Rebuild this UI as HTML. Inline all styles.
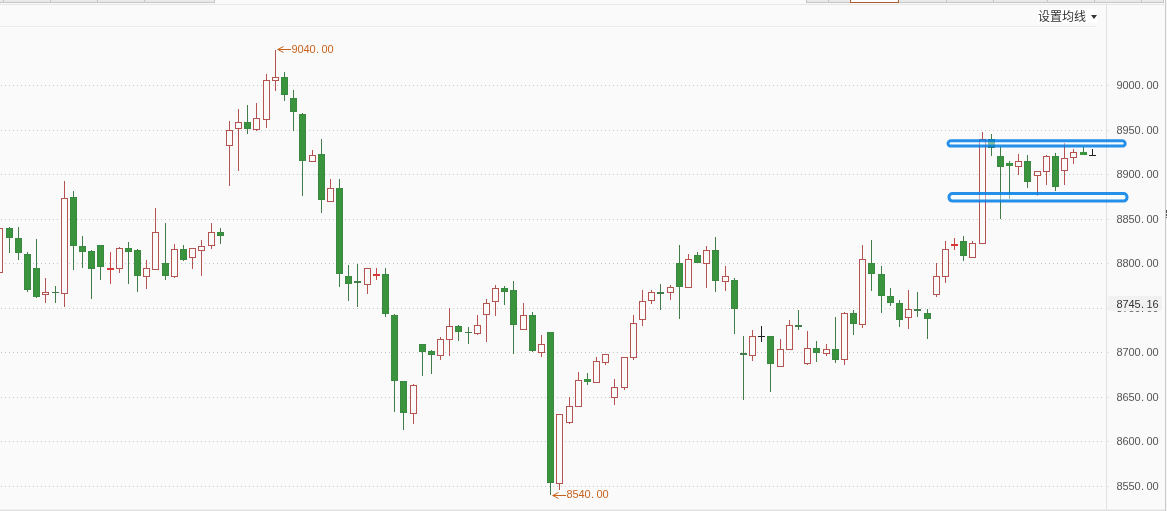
<!DOCTYPE html>
<html lang="zh-CN">
<head>
<meta charset="utf-8">
<title>K线图</title>
<style>
html,body{margin:0;padding:0;}
body{width:1167px;height:511px;overflow:hidden;background:#fafafa;position:relative;font-family:"Liberation Sans","Noto Sans CJK SC",sans-serif;}
svg{position:absolute;left:0;top:0;display:block;}
.pl,.hl{position:absolute;font-family:"Liberation Sans",sans-serif;font-size:11px;line-height:14px;height:14px;letter-spacing:-0.12px;white-space:nowrap;}
.pl{left:1116.5px;}
.pl i,.hl i{font-style:normal;display:inline-block;width:6px;text-align:left;text-indent:0.5px;letter-spacing:0;}
.hl{color:#c8641e;}
.cur{position:absolute;left:1108px;top:296px;width:54px;height:15px;background:#f1f1f1;border-radius:3px;}
.ma{position:absolute;left:1038px;top:9px;width:59px;height:14px;background:#fff;font-family:"Liberation Sans","Noto Sans CJK SC",sans-serif;font-size:12px;line-height:16px;color:#333;white-space:nowrap;}
.ma b{position:absolute;left:53px;top:6px;width:0;height:0;border-left:3px solid transparent;border-right:3px solid transparent;border-top:4px solid #333;}
</style>
</head>
<body>
<svg width="1167" height="511" viewBox="0 0 1167 511" shape-rendering="crispEdges">
<rect x="0" y="0" width="215" height="2" fill="#e9e9e9"/>
<rect x="0" y="2" width="215" height="1" fill="#c6c6c6"/>
<rect x="3" y="0" width="1" height="3" fill="#c6c6c6"/>
<rect x="50" y="0" width="1" height="3" fill="#c6c6c6"/>
<rect x="97" y="0" width="1" height="3" fill="#c6c6c6"/>
<rect x="144" y="0" width="1" height="3" fill="#c6c6c6"/>
<rect x="214" y="0" width="1" height="3" fill="#c6c6c6"/>
<rect x="806" y="0" width="358" height="2" fill="#e9e9e9"/>
<rect x="806" y="2" width="358" height="1" fill="#c6c6c6"/>
<rect x="806" y="0" width="1" height="3" fill="#c6c6c6"/>
<rect x="828" y="0" width="1" height="3" fill="#c6c6c6"/>
<rect x="946" y="0" width="1" height="3" fill="#c6c6c6"/>
<rect x="993" y="0" width="1" height="3" fill="#c6c6c6"/>
<rect x="1047" y="0" width="1" height="3" fill="#c6c6c6"/>
<rect x="1094" y="0" width="1" height="3" fill="#c6c6c6"/>
<rect x="1141" y="0" width="1" height="3" fill="#c6c6c6"/>
<rect x="1163" y="0" width="1" height="3" fill="#c6c6c6"/>
<rect x="850" y="0" width="49" height="3" fill="#ad5c33"/>
<rect x="851" y="0" width="47" height="2" fill="#ffffff"/>
<rect x="0" y="4" width="1165" height="1" fill="#e7e7e7"/>
<rect x="0" y="26" width="1097" height="1" fill="#ececec"/>
<rect x="1106" y="4" width="1" height="506" fill="#e1e1e1"/>
<rect x="1165" y="0" width="1" height="511" fill="#cbcbcb"/>
<rect x="1166" y="0" width="1" height="511" fill="#f4f4f4"/>
<rect x="1166" y="210" width="1" height="3" fill="#555"/>
<rect x="1166" y="214" width="1" height="2" fill="#555"/>
<rect x="1166" y="217" width="1" height="1" fill="#555"/>
<rect x="0" y="509" width="1165" height="1" fill="#f0f0f0"/>
<rect x="0" y="510" width="1165" height="1" fill="#dedede"/>
<pattern id="dots" x="1" y="0" width="4" height="1" patternUnits="userSpaceOnUse"><rect x="0" y="0" width="1" height="1" fill="#c6c6c6"/></pattern>
<rect x="1" y="85" width="1101" height="1" fill="url(#dots)"/>
<rect x="1107" y="85" width="2" height="1" fill="#e4e4e4"/>
<rect x="1" y="130" width="1101" height="1" fill="url(#dots)"/>
<rect x="1107" y="130" width="2" height="1" fill="#e4e4e4"/>
<rect x="1" y="174" width="1101" height="1" fill="url(#dots)"/>
<rect x="1107" y="174" width="2" height="1" fill="#e4e4e4"/>
<rect x="1" y="219" width="1101" height="1" fill="url(#dots)"/>
<rect x="1107" y="219" width="2" height="1" fill="#e4e4e4"/>
<rect x="1" y="263" width="1101" height="1" fill="url(#dots)"/>
<rect x="1107" y="263" width="2" height="1" fill="#e4e4e4"/>
<rect x="1" y="308" width="1101" height="1" fill="url(#dots)"/>
<rect x="1107" y="308" width="2" height="1" fill="#e4e4e4"/>
<rect x="1" y="352" width="1101" height="1" fill="url(#dots)"/>
<rect x="1107" y="352" width="2" height="1" fill="#e4e4e4"/>
<rect x="1" y="397" width="1101" height="1" fill="url(#dots)"/>
<rect x="1107" y="397" width="2" height="1" fill="#e4e4e4"/>
<rect x="1" y="441" width="1101" height="1" fill="url(#dots)"/>
<rect x="1107" y="441" width="2" height="1" fill="#e4e4e4"/>
<rect x="1" y="486" width="1101" height="1" fill="url(#dots)"/>
<rect x="1107" y="486" width="2" height="1" fill="#e4e4e4"/>
<rect x="-4" y="228" width="7" height="45" fill="#b55351"/>
<rect x="-3" y="229" width="5" height="43" fill="#fcfbfb"/>
<rect x="9" y="227" width="1" height="26" fill="#427c48"/>
<rect x="6" y="228" width="7" height="10" fill="#3b8840"/>
<rect x="7" y="229" width="5" height="8" fill="#3a943e"/>
<rect x="18" y="227" width="1" height="33" fill="#427c48"/>
<rect x="15" y="238" width="7" height="15" fill="#3b8840"/>
<rect x="16" y="239" width="5" height="13" fill="#3a943e"/>
<rect x="27" y="252" width="1" height="40" fill="#427c48"/>
<rect x="24" y="254" width="7" height="36" fill="#3b8840"/>
<rect x="25" y="255" width="5" height="34" fill="#3a943e"/>
<rect x="36" y="239" width="1" height="59" fill="#427c48"/>
<rect x="33" y="268" width="7" height="29" fill="#3b8840"/>
<rect x="34" y="269" width="5" height="27" fill="#3a943e"/>
<rect x="45" y="278" width="1" height="14" fill="#b55351"/>
<rect x="45" y="295" width="1" height="8" fill="#b55351"/>
<rect x="42" y="292" width="7" height="3" fill="#b55351"/>
<rect x="43" y="293" width="5" height="1" fill="#fcfbfb"/>
<rect x="55" y="286" width="1" height="17" fill="#427c48"/>
<rect x="52" y="292" width="7" height="1" fill="#427c48"/>
<rect x="64" y="181" width="1" height="17" fill="#b55351"/>
<rect x="64" y="294" width="1" height="13" fill="#b55351"/>
<rect x="61" y="198" width="7" height="96" fill="#b55351"/>
<rect x="62" y="199" width="5" height="94" fill="#fcfbfb"/>
<rect x="73" y="191" width="1" height="79" fill="#427c48"/>
<rect x="70" y="197" width="7" height="49" fill="#3b8840"/>
<rect x="71" y="198" width="5" height="47" fill="#3a943e"/>
<rect x="82" y="236" width="1" height="32" fill="#427c48"/>
<rect x="79" y="246" width="7" height="6" fill="#3b8840"/>
<rect x="80" y="247" width="5" height="4" fill="#3a943e"/>
<rect x="91" y="250" width="1" height="49" fill="#427c48"/>
<rect x="88" y="251" width="7" height="18" fill="#3b8840"/>
<rect x="89" y="252" width="5" height="16" fill="#3a943e"/>
<rect x="100" y="245" width="1" height="35" fill="#427c48"/>
<rect x="97" y="245" width="7" height="22" fill="#3b8840"/>
<rect x="98" y="246" width="5" height="20" fill="#3a943e"/>
<rect x="110" y="252" width="1" height="32" fill="#c44a48"/>
<rect x="107" y="268" width="7" height="2" fill="#d63835"/>
<rect x="119" y="247" width="1" height="1" fill="#b55351"/>
<rect x="119" y="269" width="1" height="4" fill="#b55351"/>
<rect x="116" y="248" width="7" height="21" fill="#b55351"/>
<rect x="117" y="249" width="5" height="19" fill="#fcfbfb"/>
<rect x="128" y="242" width="1" height="42" fill="#427c48"/>
<rect x="125" y="248" width="7" height="4" fill="#3b8840"/>
<rect x="126" y="249" width="5" height="2" fill="#3a943e"/>
<rect x="137" y="249" width="1" height="43" fill="#427c48"/>
<rect x="134" y="250" width="7" height="26" fill="#3b8840"/>
<rect x="135" y="251" width="5" height="24" fill="#3a943e"/>
<rect x="146" y="260" width="1" height="8" fill="#b55351"/>
<rect x="146" y="277" width="1" height="12" fill="#b55351"/>
<rect x="143" y="268" width="7" height="9" fill="#b55351"/>
<rect x="144" y="269" width="5" height="7" fill="#fcfbfb"/>
<rect x="155" y="208" width="1" height="24" fill="#b55351"/>
<rect x="152" y="232" width="7" height="38" fill="#b55351"/>
<rect x="153" y="233" width="5" height="36" fill="#fcfbfb"/>
<rect x="165" y="223" width="1" height="57" fill="#427c48"/>
<rect x="162" y="263" width="7" height="13" fill="#3b8840"/>
<rect x="163" y="264" width="5" height="11" fill="#3a943e"/>
<rect x="174" y="244" width="1" height="5" fill="#b55351"/>
<rect x="174" y="277" width="1" height="1" fill="#b55351"/>
<rect x="171" y="249" width="7" height="28" fill="#b55351"/>
<rect x="172" y="250" width="5" height="26" fill="#fcfbfb"/>
<rect x="183" y="245" width="1" height="16" fill="#427c48"/>
<rect x="180" y="249" width="7" height="11" fill="#3b8840"/>
<rect x="181" y="250" width="5" height="9" fill="#3a943e"/>
<rect x="192" y="258" width="1" height="11" fill="#b55351"/>
<rect x="189" y="248" width="7" height="10" fill="#b55351"/>
<rect x="190" y="249" width="5" height="8" fill="#fcfbfb"/>
<rect x="201" y="240" width="1" height="6" fill="#b55351"/>
<rect x="201" y="251" width="1" height="25" fill="#b55351"/>
<rect x="198" y="246" width="7" height="5" fill="#b55351"/>
<rect x="199" y="247" width="5" height="3" fill="#fcfbfb"/>
<rect x="211" y="223" width="1" height="9" fill="#b55351"/>
<rect x="211" y="246" width="1" height="3" fill="#b55351"/>
<rect x="208" y="232" width="7" height="14" fill="#b55351"/>
<rect x="209" y="233" width="5" height="12" fill="#fcfbfb"/>
<rect x="220" y="228" width="1" height="16" fill="#427c48"/>
<rect x="217" y="232" width="7" height="4" fill="#3b8840"/>
<rect x="218" y="233" width="5" height="2" fill="#3a943e"/>
<rect x="229" y="121" width="1" height="9" fill="#b55351"/>
<rect x="229" y="146" width="1" height="40" fill="#b55351"/>
<rect x="226" y="130" width="7" height="16" fill="#b55351"/>
<rect x="227" y="131" width="5" height="14" fill="#fcfbfb"/>
<rect x="238" y="109" width="1" height="13" fill="#b55351"/>
<rect x="238" y="129" width="1" height="42" fill="#b55351"/>
<rect x="235" y="122" width="7" height="7" fill="#b55351"/>
<rect x="236" y="123" width="5" height="5" fill="#fcfbfb"/>
<rect x="247" y="105" width="1" height="29" fill="#427c48"/>
<rect x="244" y="122" width="7" height="7" fill="#3b8840"/>
<rect x="245" y="123" width="5" height="5" fill="#3a943e"/>
<rect x="256" y="103" width="1" height="15" fill="#b55351"/>
<rect x="256" y="130" width="1" height="1" fill="#b55351"/>
<rect x="253" y="118" width="7" height="12" fill="#b55351"/>
<rect x="254" y="119" width="5" height="10" fill="#fcfbfb"/>
<rect x="266" y="74" width="1" height="6" fill="#b55351"/>
<rect x="266" y="120" width="1" height="8" fill="#b55351"/>
<rect x="263" y="80" width="7" height="40" fill="#b55351"/>
<rect x="264" y="81" width="5" height="38" fill="#fcfbfb"/>
<rect x="275" y="50" width="1" height="27" fill="#b55351"/>
<rect x="275" y="81" width="1" height="10" fill="#b55351"/>
<rect x="272" y="77" width="7" height="4" fill="#b55351"/>
<rect x="273" y="78" width="5" height="2" fill="#fcfbfb"/>
<rect x="284" y="72" width="1" height="29" fill="#427c48"/>
<rect x="281" y="77" width="7" height="18" fill="#3b8840"/>
<rect x="282" y="78" width="5" height="16" fill="#3a943e"/>
<rect x="293" y="90" width="1" height="41" fill="#427c48"/>
<rect x="290" y="98" width="7" height="14" fill="#3b8840"/>
<rect x="291" y="99" width="5" height="12" fill="#3a943e"/>
<rect x="302" y="113" width="1" height="83" fill="#427c48"/>
<rect x="299" y="114" width="7" height="47" fill="#3b8840"/>
<rect x="300" y="115" width="5" height="45" fill="#3a943e"/>
<rect x="312" y="150" width="1" height="5" fill="#b55351"/>
<rect x="309" y="155" width="7" height="7" fill="#b55351"/>
<rect x="310" y="156" width="5" height="5" fill="#fcfbfb"/>
<rect x="321" y="139" width="1" height="74" fill="#427c48"/>
<rect x="318" y="154" width="7" height="46" fill="#3b8840"/>
<rect x="319" y="155" width="5" height="44" fill="#3a943e"/>
<rect x="330" y="179" width="1" height="9" fill="#b55351"/>
<rect x="327" y="188" width="7" height="14" fill="#b55351"/>
<rect x="328" y="189" width="5" height="12" fill="#fcfbfb"/>
<rect x="339" y="179" width="1" height="108" fill="#427c48"/>
<rect x="336" y="188" width="7" height="86" fill="#3b8840"/>
<rect x="337" y="189" width="5" height="84" fill="#3a943e"/>
<rect x="348" y="265" width="1" height="36" fill="#427c48"/>
<rect x="345" y="276" width="7" height="8" fill="#3b8840"/>
<rect x="346" y="277" width="5" height="6" fill="#3a943e"/>
<rect x="357" y="264" width="1" height="43" fill="#427c48"/>
<rect x="354" y="281" width="7" height="2" fill="#427c48"/>
<rect x="367" y="285" width="1" height="9" fill="#b55351"/>
<rect x="364" y="268" width="7" height="17" fill="#b55351"/>
<rect x="365" y="269" width="5" height="15" fill="#fcfbfb"/>
<rect x="376" y="268" width="1" height="12" fill="#c44a48"/>
<rect x="373" y="274" width="7" height="2" fill="#d63835"/>
<rect x="385" y="268" width="1" height="49" fill="#427c48"/>
<rect x="382" y="274" width="7" height="40" fill="#3b8840"/>
<rect x="383" y="275" width="5" height="38" fill="#3a943e"/>
<rect x="394" y="314" width="1" height="98" fill="#427c48"/>
<rect x="391" y="315" width="7" height="66" fill="#3b8840"/>
<rect x="392" y="316" width="5" height="64" fill="#3a943e"/>
<rect x="403" y="381" width="1" height="49" fill="#427c48"/>
<rect x="400" y="381" width="7" height="32" fill="#3b8840"/>
<rect x="401" y="382" width="5" height="30" fill="#3a943e"/>
<rect x="413" y="384" width="1" height="1" fill="#b55351"/>
<rect x="413" y="414" width="1" height="10" fill="#b55351"/>
<rect x="410" y="385" width="7" height="29" fill="#b55351"/>
<rect x="411" y="386" width="5" height="27" fill="#fcfbfb"/>
<rect x="422" y="344" width="1" height="32" fill="#427c48"/>
<rect x="419" y="344" width="7" height="8" fill="#3b8840"/>
<rect x="420" y="345" width="5" height="6" fill="#3a943e"/>
<rect x="431" y="350" width="1" height="24" fill="#427c48"/>
<rect x="428" y="351" width="7" height="4" fill="#3b8840"/>
<rect x="429" y="352" width="5" height="2" fill="#3a943e"/>
<rect x="440" y="337" width="1" height="2" fill="#b55351"/>
<rect x="440" y="356" width="1" height="4" fill="#b55351"/>
<rect x="437" y="339" width="7" height="17" fill="#b55351"/>
<rect x="438" y="340" width="5" height="15" fill="#fcfbfb"/>
<rect x="449" y="308" width="1" height="18" fill="#b55351"/>
<rect x="449" y="340" width="1" height="16" fill="#b55351"/>
<rect x="446" y="326" width="7" height="14" fill="#b55351"/>
<rect x="447" y="327" width="5" height="12" fill="#fcfbfb"/>
<rect x="458" y="325" width="1" height="16" fill="#427c48"/>
<rect x="455" y="326" width="7" height="6" fill="#3b8840"/>
<rect x="456" y="327" width="5" height="4" fill="#3a943e"/>
<rect x="468" y="327" width="1" height="17" fill="#427c48"/>
<rect x="465" y="332" width="7" height="1" fill="#427c48"/>
<rect x="477" y="315" width="1" height="10" fill="#b55351"/>
<rect x="477" y="334" width="1" height="1" fill="#b55351"/>
<rect x="474" y="325" width="7" height="9" fill="#b55351"/>
<rect x="475" y="326" width="5" height="7" fill="#fcfbfb"/>
<rect x="486" y="299" width="1" height="4" fill="#b55351"/>
<rect x="486" y="315" width="1" height="27" fill="#b55351"/>
<rect x="483" y="303" width="7" height="12" fill="#b55351"/>
<rect x="484" y="304" width="5" height="10" fill="#fcfbfb"/>
<rect x="495" y="285" width="1" height="3" fill="#b55351"/>
<rect x="495" y="302" width="1" height="14" fill="#b55351"/>
<rect x="492" y="288" width="7" height="14" fill="#b55351"/>
<rect x="493" y="289" width="5" height="12" fill="#fcfbfb"/>
<rect x="504" y="286" width="1" height="19" fill="#427c48"/>
<rect x="501" y="288" width="7" height="4" fill="#3b8840"/>
<rect x="502" y="289" width="5" height="2" fill="#3a943e"/>
<rect x="513" y="281" width="1" height="73" fill="#427c48"/>
<rect x="510" y="290" width="7" height="35" fill="#3b8840"/>
<rect x="511" y="291" width="5" height="33" fill="#3a943e"/>
<rect x="523" y="303" width="1" height="12" fill="#b55351"/>
<rect x="520" y="315" width="7" height="15" fill="#b55351"/>
<rect x="521" y="316" width="5" height="13" fill="#fcfbfb"/>
<rect x="532" y="312" width="1" height="40" fill="#427c48"/>
<rect x="529" y="315" width="7" height="36" fill="#3b8840"/>
<rect x="530" y="316" width="5" height="34" fill="#3a943e"/>
<rect x="541" y="335" width="1" height="9" fill="#b55351"/>
<rect x="541" y="353" width="1" height="4" fill="#b55351"/>
<rect x="538" y="344" width="7" height="9" fill="#b55351"/>
<rect x="539" y="345" width="5" height="7" fill="#fcfbfb"/>
<rect x="550" y="332" width="1" height="163" fill="#427c48"/>
<rect x="547" y="332" width="7" height="151" fill="#3b8840"/>
<rect x="548" y="333" width="5" height="149" fill="#3a943e"/>
<rect x="559" y="484" width="1" height="6" fill="#b55351"/>
<rect x="556" y="414" width="7" height="70" fill="#b55351"/>
<rect x="557" y="415" width="5" height="68" fill="#fcfbfb"/>
<rect x="569" y="397" width="1" height="9" fill="#b55351"/>
<rect x="569" y="423" width="1" height="1" fill="#b55351"/>
<rect x="566" y="406" width="7" height="17" fill="#b55351"/>
<rect x="567" y="407" width="5" height="15" fill="#fcfbfb"/>
<rect x="578" y="372" width="1" height="8" fill="#b55351"/>
<rect x="575" y="380" width="7" height="27" fill="#b55351"/>
<rect x="576" y="381" width="5" height="25" fill="#fcfbfb"/>
<rect x="587" y="373" width="1" height="12" fill="#427c48"/>
<rect x="584" y="379" width="7" height="3" fill="#3a943e"/>
<rect x="596" y="357" width="1" height="4" fill="#b55351"/>
<rect x="593" y="361" width="7" height="22" fill="#b55351"/>
<rect x="594" y="362" width="5" height="20" fill="#fcfbfb"/>
<rect x="605" y="363" width="1" height="2" fill="#b55351"/>
<rect x="602" y="354" width="7" height="9" fill="#b55351"/>
<rect x="603" y="355" width="5" height="7" fill="#fcfbfb"/>
<rect x="614" y="379" width="1" height="8" fill="#b55351"/>
<rect x="614" y="398" width="1" height="7" fill="#b55351"/>
<rect x="611" y="387" width="7" height="11" fill="#b55351"/>
<rect x="612" y="388" width="5" height="9" fill="#fcfbfb"/>
<rect x="624" y="388" width="1" height="2" fill="#b55351"/>
<rect x="621" y="357" width="7" height="31" fill="#b55351"/>
<rect x="622" y="358" width="5" height="29" fill="#fcfbfb"/>
<rect x="633" y="315" width="1" height="8" fill="#b55351"/>
<rect x="633" y="358" width="1" height="2" fill="#b55351"/>
<rect x="630" y="323" width="7" height="35" fill="#b55351"/>
<rect x="631" y="324" width="5" height="33" fill="#fcfbfb"/>
<rect x="642" y="290" width="1" height="11" fill="#b55351"/>
<rect x="642" y="320" width="1" height="6" fill="#b55351"/>
<rect x="639" y="301" width="7" height="19" fill="#b55351"/>
<rect x="640" y="302" width="5" height="17" fill="#fcfbfb"/>
<rect x="651" y="290" width="1" height="2" fill="#b55351"/>
<rect x="651" y="301" width="1" height="3" fill="#b55351"/>
<rect x="648" y="292" width="7" height="9" fill="#b55351"/>
<rect x="649" y="293" width="5" height="7" fill="#fcfbfb"/>
<rect x="660" y="284" width="1" height="26" fill="#427c48"/>
<rect x="657" y="292" width="7" height="2" fill="#427c48"/>
<rect x="670" y="285" width="1" height="2" fill="#b55351"/>
<rect x="670" y="293" width="1" height="7" fill="#b55351"/>
<rect x="667" y="287" width="7" height="6" fill="#b55351"/>
<rect x="668" y="288" width="5" height="4" fill="#fcfbfb"/>
<rect x="679" y="245" width="1" height="74" fill="#427c48"/>
<rect x="676" y="263" width="7" height="24" fill="#3b8840"/>
<rect x="677" y="264" width="5" height="22" fill="#3a943e"/>
<rect x="688" y="254" width="1" height="5" fill="#b55351"/>
<rect x="685" y="259" width="7" height="29" fill="#b55351"/>
<rect x="686" y="260" width="5" height="27" fill="#fcfbfb"/>
<rect x="697" y="252" width="1" height="11" fill="#427c48"/>
<rect x="694" y="255" width="7" height="8" fill="#3b8840"/>
<rect x="695" y="256" width="5" height="6" fill="#3a943e"/>
<rect x="706" y="246" width="1" height="4" fill="#b55351"/>
<rect x="706" y="264" width="1" height="24" fill="#b55351"/>
<rect x="703" y="250" width="7" height="14" fill="#b55351"/>
<rect x="704" y="251" width="5" height="12" fill="#fcfbfb"/>
<rect x="715" y="237" width="1" height="55" fill="#427c48"/>
<rect x="712" y="250" width="7" height="31" fill="#3b8840"/>
<rect x="713" y="251" width="5" height="29" fill="#3a943e"/>
<rect x="725" y="266" width="1" height="10" fill="#b55351"/>
<rect x="725" y="282" width="1" height="9" fill="#b55351"/>
<rect x="722" y="276" width="7" height="6" fill="#b55351"/>
<rect x="723" y="277" width="5" height="4" fill="#fcfbfb"/>
<rect x="734" y="278" width="1" height="56" fill="#427c48"/>
<rect x="731" y="280" width="7" height="29" fill="#3b8840"/>
<rect x="732" y="281" width="5" height="27" fill="#3a943e"/>
<rect x="743" y="336" width="1" height="64" fill="#427c48"/>
<rect x="740" y="353" width="7" height="2" fill="#427c48"/>
<rect x="752" y="330" width="1" height="6" fill="#b55351"/>
<rect x="752" y="356" width="1" height="5" fill="#b55351"/>
<rect x="749" y="336" width="7" height="20" fill="#b55351"/>
<rect x="750" y="337" width="5" height="18" fill="#fcfbfb"/>
<rect x="761" y="326" width="1" height="16" fill="#222"/>
<rect x="758" y="336" width="7" height="1" fill="#222"/>
<rect x="770" y="336" width="1" height="56" fill="#427c48"/>
<rect x="767" y="336" width="7" height="28" fill="#3b8840"/>
<rect x="768" y="337" width="5" height="26" fill="#3a943e"/>
<rect x="780" y="339" width="1" height="10" fill="#b55351"/>
<rect x="777" y="349" width="7" height="18" fill="#b55351"/>
<rect x="778" y="350" width="5" height="16" fill="#fcfbfb"/>
<rect x="789" y="320" width="1" height="5" fill="#b55351"/>
<rect x="786" y="325" width="7" height="25" fill="#b55351"/>
<rect x="787" y="326" width="5" height="23" fill="#fcfbfb"/>
<rect x="798" y="310" width="1" height="20" fill="#427c48"/>
<rect x="795" y="325" width="7" height="2" fill="#427c48"/>
<rect x="807" y="331" width="1" height="17" fill="#b55351"/>
<rect x="807" y="364" width="1" height="1" fill="#b55351"/>
<rect x="804" y="348" width="7" height="16" fill="#b55351"/>
<rect x="805" y="349" width="5" height="14" fill="#fcfbfb"/>
<rect x="816" y="341" width="1" height="21" fill="#427c48"/>
<rect x="813" y="348" width="7" height="5" fill="#3b8840"/>
<rect x="814" y="349" width="5" height="3" fill="#3a943e"/>
<rect x="826" y="344" width="1" height="5" fill="#b55351"/>
<rect x="826" y="354" width="1" height="2" fill="#b55351"/>
<rect x="823" y="349" width="7" height="5" fill="#b55351"/>
<rect x="824" y="350" width="5" height="3" fill="#fcfbfb"/>
<rect x="835" y="317" width="1" height="46" fill="#427c48"/>
<rect x="832" y="349" width="7" height="11" fill="#3b8840"/>
<rect x="833" y="350" width="5" height="9" fill="#3a943e"/>
<rect x="844" y="312" width="1" height="1" fill="#b55351"/>
<rect x="844" y="360" width="1" height="5" fill="#b55351"/>
<rect x="841" y="313" width="7" height="47" fill="#b55351"/>
<rect x="842" y="314" width="5" height="45" fill="#fcfbfb"/>
<rect x="853" y="310" width="1" height="25" fill="#427c48"/>
<rect x="850" y="313" width="7" height="11" fill="#3b8840"/>
<rect x="851" y="314" width="5" height="9" fill="#3a943e"/>
<rect x="862" y="245" width="1" height="14" fill="#b55351"/>
<rect x="862" y="325" width="1" height="3" fill="#b55351"/>
<rect x="859" y="259" width="7" height="66" fill="#b55351"/>
<rect x="860" y="260" width="5" height="64" fill="#fcfbfb"/>
<rect x="871" y="240" width="1" height="51" fill="#427c48"/>
<rect x="868" y="263" width="7" height="11" fill="#3b8840"/>
<rect x="869" y="264" width="5" height="9" fill="#3a943e"/>
<rect x="881" y="266" width="1" height="47" fill="#427c48"/>
<rect x="878" y="274" width="7" height="22" fill="#3b8840"/>
<rect x="879" y="275" width="5" height="20" fill="#3a943e"/>
<rect x="890" y="288" width="1" height="18" fill="#427c48"/>
<rect x="887" y="296" width="7" height="7" fill="#3b8840"/>
<rect x="888" y="297" width="5" height="5" fill="#3a943e"/>
<rect x="899" y="300" width="1" height="27" fill="#427c48"/>
<rect x="896" y="303" width="7" height="17" fill="#3b8840"/>
<rect x="897" y="304" width="5" height="15" fill="#3a943e"/>
<rect x="908" y="290" width="1" height="19" fill="#b55351"/>
<rect x="908" y="318" width="1" height="11" fill="#b55351"/>
<rect x="905" y="309" width="7" height="9" fill="#b55351"/>
<rect x="906" y="310" width="5" height="7" fill="#fcfbfb"/>
<rect x="917" y="292" width="1" height="25" fill="#427c48"/>
<rect x="914" y="309" width="7" height="2" fill="#427c48"/>
<rect x="927" y="309" width="1" height="30" fill="#427c48"/>
<rect x="924" y="313" width="7" height="6" fill="#3b8840"/>
<rect x="925" y="314" width="5" height="4" fill="#3a943e"/>
<rect x="936" y="263" width="1" height="13" fill="#b55351"/>
<rect x="936" y="295" width="1" height="2" fill="#b55351"/>
<rect x="933" y="276" width="7" height="19" fill="#b55351"/>
<rect x="934" y="277" width="5" height="17" fill="#fcfbfb"/>
<rect x="945" y="241" width="1" height="8" fill="#b55351"/>
<rect x="945" y="277" width="1" height="6" fill="#b55351"/>
<rect x="942" y="249" width="7" height="28" fill="#b55351"/>
<rect x="943" y="250" width="5" height="26" fill="#fcfbfb"/>
<rect x="954" y="238" width="1" height="12" fill="#c44a48"/>
<rect x="951" y="244" width="7" height="2" fill="#d63835"/>
<rect x="963" y="236" width="1" height="25" fill="#427c48"/>
<rect x="960" y="241" width="7" height="15" fill="#3b8840"/>
<rect x="961" y="242" width="5" height="13" fill="#3a943e"/>
<rect x="972" y="241" width="1" height="2" fill="#b55351"/>
<rect x="969" y="243" width="7" height="15" fill="#b55351"/>
<rect x="970" y="244" width="5" height="13" fill="#fcfbfb"/>
<rect x="982" y="132" width="1" height="7" fill="#b55351"/>
<rect x="979" y="139" width="7" height="105" fill="#b55351"/>
<rect x="980" y="140" width="5" height="103" fill="#fcfbfb"/>
<rect x="991" y="134" width="1" height="22" fill="#427c48"/>
<rect x="988" y="139" width="7" height="9" fill="#3b8840"/>
<rect x="989" y="140" width="5" height="7" fill="#3a943e"/>
<rect x="1000" y="147" width="1" height="72" fill="#427c48"/>
<rect x="997" y="156" width="7" height="11" fill="#3b8840"/>
<rect x="998" y="157" width="5" height="9" fill="#3a943e"/>
<rect x="1009" y="161" width="1" height="38" fill="#427c48"/>
<rect x="1006" y="163" width="7" height="3" fill="#3a943e"/>
<rect x="1018" y="154" width="1" height="7" fill="#b55351"/>
<rect x="1018" y="167" width="1" height="8" fill="#b55351"/>
<rect x="1015" y="161" width="7" height="6" fill="#b55351"/>
<rect x="1016" y="162" width="5" height="4" fill="#fcfbfb"/>
<rect x="1027" y="155" width="1" height="33" fill="#427c48"/>
<rect x="1024" y="161" width="7" height="21" fill="#3b8840"/>
<rect x="1025" y="162" width="5" height="19" fill="#3a943e"/>
<rect x="1037" y="176" width="1" height="20" fill="#b55351"/>
<rect x="1034" y="171" width="7" height="5" fill="#b55351"/>
<rect x="1035" y="172" width="5" height="3" fill="#fcfbfb"/>
<rect x="1046" y="155" width="1" height="1" fill="#b55351"/>
<rect x="1046" y="172" width="1" height="13" fill="#b55351"/>
<rect x="1043" y="156" width="7" height="16" fill="#b55351"/>
<rect x="1044" y="157" width="5" height="14" fill="#fcfbfb"/>
<rect x="1055" y="153" width="1" height="38" fill="#427c48"/>
<rect x="1052" y="156" width="7" height="31" fill="#3b8840"/>
<rect x="1053" y="157" width="5" height="29" fill="#3a943e"/>
<rect x="1064" y="143" width="1" height="15" fill="#b55351"/>
<rect x="1064" y="171" width="1" height="14" fill="#b55351"/>
<rect x="1061" y="158" width="7" height="13" fill="#b55351"/>
<rect x="1062" y="159" width="5" height="11" fill="#fcfbfb"/>
<rect x="1073" y="149" width="1" height="3" fill="#b55351"/>
<rect x="1073" y="158" width="1" height="6" fill="#b55351"/>
<rect x="1070" y="152" width="7" height="6" fill="#b55351"/>
<rect x="1071" y="153" width="5" height="4" fill="#fcfbfb"/>
<rect x="1083" y="147" width="1" height="8" fill="#427c48"/>
<rect x="1080" y="152" width="7" height="3" fill="#3a943e"/>
<rect x="1092" y="149" width="1" height="7" fill="#222"/>
<rect x="1089" y="155" width="7" height="1" fill="#222"/>
<g stroke="#c8641e" stroke-width="1" fill="none" shape-rendering="auto"><path d="M277.5 49.5H291"/><path d="M283.5 46.5L277.8 49.5L283.5 52.5"/></g>
<g stroke="#c8641e" stroke-width="1" fill="none" shape-rendering="auto"><path d="M552.5 495.5H566"/><path d="M558.5 492.5L552.8 495.5L558.5 498.5"/></g>
<g shape-rendering="auto" fill="rgba(244,255,255,0.45)" stroke="#007de5" stroke-opacity="0.85" stroke-width="3"><rect x="948" y="140.7" width="177.2" height="5.4" rx="3" ry="3"/><rect x="949" y="193.6" width="178" height="7.5" rx="3.5" ry="3.5"/></g>
</svg>
<div class="pl" style="top:78px;color:#555">9000<i>.</i>00</div>
<div class="pl" style="top:123px;color:#555">8950<i>.</i>00</div>
<div class="pl" style="top:167px;color:#555">8900<i>.</i>00</div>
<div class="pl" style="top:212px;color:#555">8850<i>.</i>00</div>
<div class="pl" style="top:256px;color:#555">8800<i>.</i>00</div>
<div class="pl" style="top:301px;color:#555">8750<i>.</i>00</div>
<div class="pl" style="top:345px;color:#555">8700<i>.</i>00</div>
<div class="pl" style="top:390px;color:#555">8650<i>.</i>00</div>
<div class="pl" style="top:434px;color:#555">8600<i>.</i>00</div>
<div class="pl" style="top:479px;color:#555">8550<i>.</i>00</div>
<div class="cur"></div>
<div class="pl" style="top:297px;color:#333">8745<i>.</i>16</div>
<div class="hl" style="left:291.6px;top:42px">9040<i>.</i>00</div>
<div class="hl" style="left:566.5px;top:487px">8540<i>.</i>00</div>
<div class="ma">设置均线<b></b></div>
</body>
</html>
